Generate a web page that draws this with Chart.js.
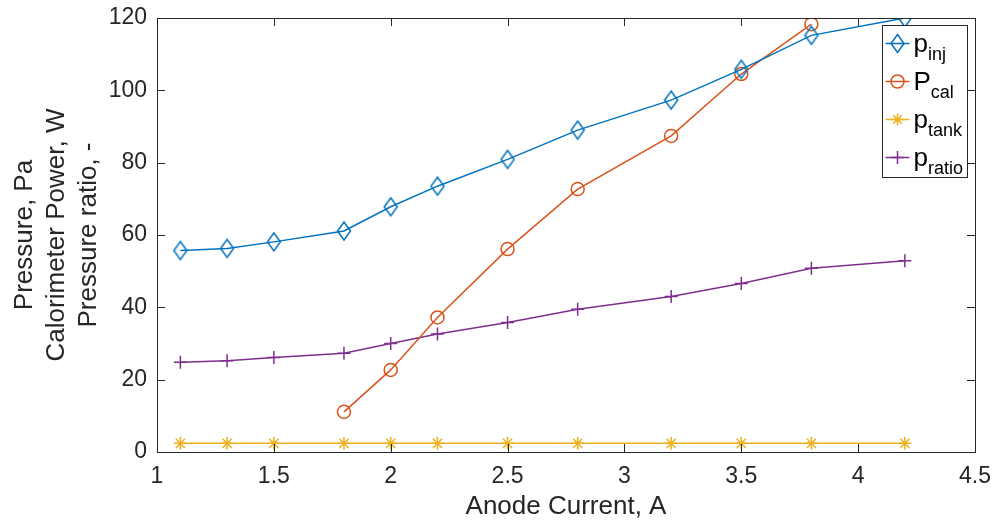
<!DOCTYPE html>
<html lang="en">
  <head>
    <meta charset="UTF-8" />
    <title>Anode current sweep</title>
    <style>
      body { margin: 0; background: #fff; }
      canvas { display: block; }
    </style>
  </head>
  <body>
    <canvas id="myChart" width="993" height="522"></canvas>
    <script src="https://cdn.jsdelivr.net/npm/chart.js"></script>
    <script>
      // values
      const current = [1.1, 1.3, 1.5, 1.8, 2.0, 2.2, 2.5, 2.8, 3.2, 3.5, 3.8, 4.2];
      const pInj = [55.7, 56.3, 58.1, 61.1, 67.8, 73.5, 80.9, 89.0, 97.3, 105.8, 115.2, 120.0];
      const pCal = [null, null, null, 11.1, 22.7, 37.2, 56.1, 72.7, 87.4, 104.5, 118.3, null];
      const pTank = [2.4, 2.4, 2.4, 2.4, 2.4, 2.4, 2.4, 2.4, 2.4, 2.4, 2.4, 2.4];
      const pRatio = [24.8, 25.2, 26.1, 27.3, 30.0, 32.6, 35.8, 39.5, 43.0, 46.6, 50.8, 52.9];

      const legendNames = [["p", "inj"], ["P", "cal"], ["p", "tank"], ["p", "ratio"]];
      const xTicks = [1, 1.5, 2, 2.5, 3, 3.5, 4, 4.5];
      const yTicks = [0, 20, 40, 60, 80, 100, 120];

      const colors = ["#0072bd", "#d95319", "#edb120", "#7e2f8e"];
      const markers = ["diamond", "circle", "star", "cross"];
      const axisColor = "#262626";
      const fontFamily = "'Liberation Sans', Arial, Helvetica, sans-serif";

      function drawMarker(ctx, kind, x, y, color) {
        ctx.save();
        ctx.strokeStyle = color;
        ctx.lineWidth = 1.5;
        ctx.beginPath();
        if (kind === "diamond") {
          ctx.moveTo(x, y - 9);
          ctx.lineTo(x + 6.5, y);
          ctx.lineTo(x, y + 9);
          ctx.lineTo(x - 6.5, y);
          ctx.closePath();
        } else if (kind === "circle") {
          ctx.arc(x, y, 6.5, 0, Math.PI * 2);
        } else if (kind === "star") {
          for (let i = 0; i < 4; i++) {
            const a = (i * Math.PI) / 4;
            ctx.moveTo(x - 6 * Math.cos(a), y - 6 * Math.sin(a));
            ctx.lineTo(x + 6 * Math.cos(a), y + 6 * Math.sin(a));
          }
        } else {
          ctx.moveTo(x - 6.5, y);
          ctx.lineTo(x + 6.5, y);
          ctx.moveTo(x, y - 6.5);
          ctx.lineTo(x, y + 6.5);
        }
        ctx.stroke();
        ctx.restore();
      }

      // MATLAB style diamond is taller than wide, so build it as an image
      const diamond = document.createElement("canvas");
      diamond.width = 16;
      diamond.height = 22;
      drawMarker(diamond.getContext("2d"), "diamond", 8, 11, colors[0]);

      function toPoints(ys) {
        return current.map((x, i) => ({ x: x, y: ys[i] }));
      }

      function series(ys, i) {
        let style = markers[i];
        if (style === "diamond") style = diamond;
        return {
          data: toPoints(ys),
          borderColor: colors[i],
          borderWidth: 1.5,
          pointStyle: style,
          pointRadius: 6.5,
          pointBorderWidth: 1.5,
          pointBorderColor: colors[i],
          pointBackgroundColor: "rgba(0,0,0,0)",
          spanGaps: false,
          tension: 0,
        };
      }

      // no extra room for overhanging tick labels, the layout padding decides
      function noPadding(s) {
        s.paddingTop = 0;
        s.paddingBottom = 0;
        s.paddingLeft = 0;
        s.paddingRight = 0;
      }

      const boxPlugin = {
        id: "boxPlugin",
        afterDraw(chart) {
          const ctx = chart.ctx;
          const a = chart.chartArea;
          const xs = chart.scales.x;
          const ys = chart.scales.y;
          ctx.save();
          ctx.strokeStyle = axisColor;
          ctx.lineWidth = 1;
          ctx.beginPath();
          xTicks.forEach((v) => {
            const px = Math.round(xs.getPixelForValue(v)) + 0.5;
            ctx.moveTo(px, a.bottom);
            ctx.lineTo(px, a.bottom - 8);
            ctx.moveTo(px, a.top);
            ctx.lineTo(px, a.top + 8);
          });
          yTicks.forEach((v) => {
            const py = Math.round(ys.getPixelForValue(v)) + 0.5;
            ctx.moveTo(a.left, py);
            ctx.lineTo(a.left + 8, py);
            ctx.moveTo(a.right, py);
            ctx.lineTo(a.right - 8, py);
          });
          ctx.stroke();
          ctx.strokeRect(
            Math.round(a.left) + 0.5,
            Math.round(a.top) + 0.5,
            Math.round(a.right - a.left),
            Math.round(a.bottom - a.top)
          );

          // legend with subscripts
          const bx = Math.round(a.right) - 93 + 0.5;
          const by = Math.round(a.top) + 7 + 0.5;
          ctx.fillStyle = "#fff";
          ctx.fillRect(bx, by, 85, 152);
          ctx.strokeStyle = axisColor;
          ctx.strokeRect(bx, by, 85, 152);
          legendNames.forEach((name, i) => {
            const ry = by + 18 + i * 38;
            ctx.strokeStyle = colors[i];
            ctx.lineWidth = 1.5;
            ctx.beginPath();
            ctx.moveTo(bx + 3, ry);
            ctx.lineTo(bx + 27, ry);
            ctx.stroke();
            drawMarker(ctx, markers[i], bx + 15, ry, colors[i]);
            ctx.fillStyle = "#000";
            ctx.textBaseline = "alphabetic";
            ctx.textAlign = "left";
            ctx.font = "26px " + fontFamily;
            ctx.fillText(name[0], bx + 31, ry + 8);
            const w = ctx.measureText(name[0]).width;
            ctx.font = "18px " + fontFamily;
            ctx.fillText(name[1], bx + 31 + w, ry + 16);
          });
          ctx.restore();
        },
      };

      const config = {
        type: "line",
        data: {
          datasets: [series(pInj, 0), series(pCal, 1), series(pTank, 2), series(pRatio, 3)],
        },
        options: {
          responsive: false,
          animation: false,
          events: [],
          layout: { padding: { top: 18, right: 18, left: 0, bottom: 0 } },
          plugins: {
            legend: { display: false },
            tooltip: { enabled: false },
          },
          scales: {
            x: {
              type: "linear",
              min: 1,
              max: 4.5,
              afterBuildTicks: (s) => {
                s.ticks = xTicks.map((v) => ({ value: v }));
              },
              afterFit: (s) => {
                s.height = 70;
                noPadding(s);
              },
              grid: { display: false, drawTicks: false },
              border: { display: false },
              ticks: {
                color: axisColor,
                padding: 11,
                maxRotation: 0,
                callback: (v) => String(v),
                font: { family: fontFamily, size: 23 },
              },
              title: {
                display: true,
                text: "Anode Current, A",
                color: axisColor,
                padding: { top: 0, bottom: 0 },
                font: { family: fontFamily, size: 26, lineHeight: 1.2 },
              },
            },
            y: {
              min: 0,
              max: 120,
              afterBuildTicks: (s) => {
                s.ticks = yTicks.map((v) => ({ value: v }));
              },
              afterFit: (s) => {
                s.width = 157;
                noPadding(s);
              },
              grid: { display: false, drawTicks: false },
              border: { display: false },
              ticks: {
                color: axisColor,
                padding: 10,
                callback: (v) => String(v),
                font: { family: fontFamily, size: 23 },
              },
              title: {
                display: true,
                text: ["Pressure, Pa", "Calorimeter Power, W", "Pressure ratio, -"],
                color: axisColor,
                padding: { top: 9, bottom: 0 },
                font: { family: fontFamily, size: 26, lineHeight: 1.23 },
              },
            },
          },
        },
        plugins: [boxPlugin],
      };

      const myChart = new Chart(document.getElementById("myChart"), config);
    </script>
  </body>
</html>
